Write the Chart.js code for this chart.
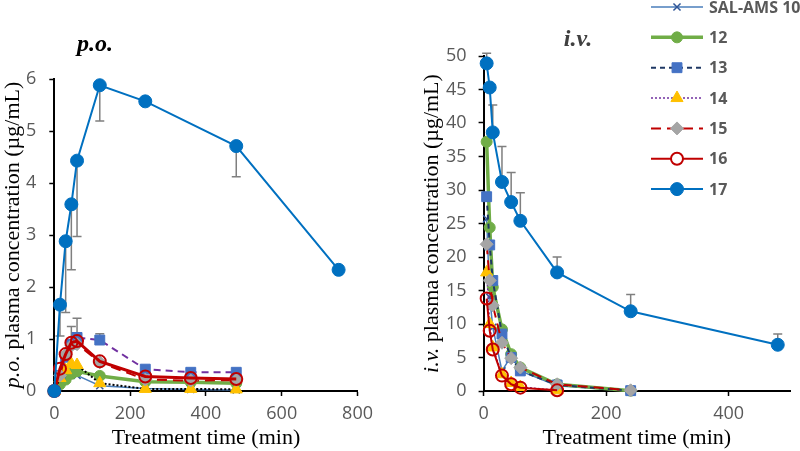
<!DOCTYPE html>
<html><head><meta charset="utf-8">
<script src="https://cdn.jsdelivr.net/npm/chart.js@4.4.1/dist/chart.umd.min.js"></script>
<style>
html,body{margin:0;padding:0;background:#fff;width:800px;height:451px;overflow:hidden}
.w{position:absolute;top:0;height:451px}
</style></head><body>
<div class="w" style="left:0;width:380px"><canvas id="po"></canvas></div>
<div class="w" style="left:380px;width:420px"><canvas id="iv"></canvas></div>
<script>
// ---------- DATA ----------
const seriesNames = ['SAL-AMS 10','12','13','14','15','16','17'];

const poTimes = [0, 15, 30, 45, 60, 120, 240, 360, 480, 750];
const po10 = [0, 0.15, 0.28, 0.36, 0.30, 0.10, 0.05, 0.03, 0.02, null];
const po12 = [0, 0.13, 0.22, 0.33, 0.38, 0.29, 0.18, 0.17, 0.15, null];
const po13 = [0, 0.30, 0.65, 0.90, 1.03, 0.98, 0.42, 0.36, 0.36, null];
const po14 = [0, 0.25, 0.40, 0.52, 0.50, 0.15, 0.04, 0.04, 0.03, null];
const po15 = [0, 0.30, 0.70, 0.87, 0.90, 0.55, 0.22, 0.20, 0.21, null];
const po16 = [0, 0.43, 0.71, 0.93, 0.96, 0.57, 0.28, 0.25, 0.23, null];
const po17 = [0, 1.66, 2.88, 3.59, 4.43, 5.88, 5.57, null, 4.71, 2.33];
// error bars (p.o.): 17 drawn downward, 13/16 upward
const poErr17 = [null, 0.60, 1.37, 1.26, 1.46, 0.69, null, null, 0.59, null];
const poErr13 = [null, null, null, null, 0.37, 0.12, null, null, null, null];
const poErr16 = [null, null, null, 0.31, null, null, null, null, null, null];

const ivTimes = [5, 10, 15, 30, 45, 60, 120, 240, 480];
const iv10 = [25.7, 14.0, 9.5, 3.0, 5.2, 3.0, 0.8, 0.0, null];
const iv12 = [37.2, 24.4, 15.5, 9.2, 5.5, 3.5, 1.0, 0.05, null];
const iv13 = [29.0, 21.8, 16.5, 8.5, 5.0, 3.0, 0.9, 0.05, null];
const iv14 = [17.7, 10.0, 6.5, 2.5, 1.2, 0.6, 0.1, null, null];
const iv15 = [21.9, 16.5, 12.8, 7.2, 4.9, 3.5, 1.0, 0.1, null];
const iv16 = [13.8, 9.0, 6.2, 2.3, 1.0, 0.5, 0.1, null, null];
const iv17 = [48.9, 45.3, 38.6, 31.2, 28.2, 25.4, 17.7, 11.9, 6.9];
const ivErr17 = [1.5, null, 4.1, 5.3, 4.4, 4.2, 2.3, 2.5, 1.6];

const poXTicks = [0, 200, 400, 600, 800];
const ivXTicks = [0, 200, 400];

// ---------- STYLES ----------
Chart.defaults.font.family = "'Open Sans', sans-serif";
function styleFor(i, panel){
  switch(i){
    case 0: return {borderColor:'#4A7EBB', borderWidth:1.5, pointStyle:'crossRot', pointRadius:5, pointBackgroundColor:'#2F5597', pointBorderColor:'#2F5597', pointBorderWidth:1.5};
    case 1: return {borderColor:'#70AD47', borderWidth:3.5, pointStyle:'circle', pointRadius:5.5, pointBackgroundColor:'#70AD47', pointBorderColor:'#70AD47', pointBorderWidth:1};
    case 2: return {borderColor: panel==='po'?'#7030A0':'#1F3864', borderDash: panel==='po'?[7,5]:[5,4], borderWidth:2, pointStyle:'rect', pointRadius:7, pointBackgroundColor:'#4472C4', pointBorderColor:'#4472C4', pointBorderWidth:1};
    case 3: return {borderColor: panel==='po'?'#000000':'#7030A0', borderDash:[2,2], borderWidth: panel==='po'?2:1.5, pointStyle:'triangle', pointRadius:7, pointBackgroundColor:'#FFC000', pointBorderColor:'#FFC000', pointBorderWidth:1};
    case 4: return {borderColor:'#C00000', borderDash:[10,6], borderWidth:2, pointStyle:'rectRot', pointRadius:6.5, pointBackgroundColor:'#A5A5A5', pointBorderColor:'#A5A5A5', pointBorderWidth:1};
    case 5: return {borderColor:'#C00000', borderWidth: panel==='po'?3:2, pointStyle:'circle', pointRadius:6, pointBackgroundColor:'rgba(255,255,255,0)', pointBorderColor:'#C00000', pointBorderWidth:2};
    default: return {borderColor:'#0070C0', borderWidth:2, pointStyle:'circle', pointRadius:6.5, pointBackgroundColor:'#0070C0', pointBorderColor:'#0070C0', pointBorderWidth:1};
  }
}
function makeDatasets(times, list, panel){
  return list.map((vals, i) => Object.assign({
    label: seriesNames[i],
    data: times.map((t, k) => ({x: t, y: vals[k]})).filter(p => p.y !== null),
    tension: 0, clip: false, order: list.length - 1 - i, fill: false
  }, styleFor(i, panel)));
}

// ---------- PLUGINS ----------
function errorPlugin(bars){
  return { id:'errBars', beforeDatasetsDraw(chart){
    const ctx = chart.ctx, xs = chart.scales.x, ys = chart.scales.y;
    ctx.save(); ctx.strokeStyle = '#7F7F7F'; ctx.lineWidth = 1.5; ctx.setLineDash([]);
    bars.forEach(b => b.err.forEach((e, k) => {
      if (e == null || b.values[k] == null) return;
      const px = xs.getPixelForValue(b.times[k]);
      const py = ys.getPixelForValue(b.values[k]);
      const pe = ys.getPixelForValue(b.values[k] + b.dir * e);
      ctx.beginPath(); ctx.moveTo(px, py); ctx.lineTo(px, pe);
      ctx.moveTo(px - 4.5, pe); ctx.lineTo(px + 4.5, pe); ctx.stroke();
    }));
    ctx.restore();
  }};
}
function textPlugin(o){
  return { id:'texts', afterDraw(chart){
    const ctx = chart.ctx, ca = chart.chartArea;
    ctx.save();
    ctx.fillStyle = o.titleColor; ctx.font = "italic bold 24px 'Liberation Serif'";
    ctx.textAlign = 'center'; ctx.textBaseline = 'middle';
    ctx.fillText(o.title, o.titleX, o.titleY);
    // y axis title with italic prefix
    const fi = "italic 22px 'Liberation Serif'", fr = "22px 'Liberation Serif'";
    ctx.font = fi; const w1 = ctx.measureText(o.yItalic).width;
    ctx.font = fr; const w2 = ctx.measureText(o.yRest).width;
    ctx.translate(o.yX, (ca.top + ca.bottom) / 2); ctx.rotate(-Math.PI / 2);
    ctx.fillStyle = '#000'; ctx.textAlign = 'left';
    ctx.font = fi; ctx.fillText(o.yItalic, -(w1 + w2) / 2, 0);
    ctx.font = fr; ctx.fillText(o.yRest, -(w1 + w2) / 2 + w1, 0);
    ctx.restore();
  }};
}
const legendPlugin = { id:'legendBox', afterDraw(chart){
  const ctx = chart.ctx;
  chart.data.datasets.forEach((ds, i) => {
    const y = 7 + i * 30.35;
    ctx.save();
    ctx.strokeStyle = ds.borderColor; ctx.lineWidth = ds.borderWidth;
    ctx.setLineDash(ds.borderDash || []);
    ctx.beginPath(); ctx.moveTo(271, y); ctx.lineTo(323, y); ctx.stroke();
    ctx.setLineDash([]);
    ctx.fillStyle = ds.pointBackgroundColor === 'rgba(255,255,255,0)' ? '#ffffff' : ds.pointBackgroundColor;
    ctx.strokeStyle = ds.pointBorderColor; ctx.lineWidth = ds.pointBorderWidth;
    Chart.helpers.drawPoint(ctx, {pointStyle: ds.pointStyle, radius: ds.pointRadius, borderWidth: ds.pointBorderWidth, rotation: 0}, 297, y);
    ctx.fillStyle = '#595959'; ctx.font = "bold 16px 'Open Sans'";
    ctx.textAlign = 'left'; ctx.textBaseline = 'middle';
    ctx.fillText(ds.label, 329, y + 1);
    ctx.restore();
  });
}};

function axes(xmax, xstep, xticks, ymax, ystep, ypad){
  const tickFont = {family:"'Open Sans'", size:18};
  return {
    x: { type:'linear', min:0, max:xmax,
      afterBuildTicks: s => { s.ticks = xticks.map(v => ({value: v})); },
      ticks:{ stepSize:xstep, includeBounds:false, color:'#595959', font:tickFont, padding:7, maxRotation:0 },
      grid:{ display:true, drawOnChartArea:false, drawTicks:true, tickLength:5, color:'#000', tickWidth:1.5 },
      border:{ display:true, color:'#000', width:2 },
      title:{ display:true, text:'Treatment time (min)', color:'#000', font:{family:"'Liberation Serif'", size:22}, padding:{top:-7, bottom:0} } },
    y: { type:'linear', min:0, max:ymax,
      ticks:{ stepSize:ystep, color:'#595959', font:tickFont, padding:ypad },
      grid:{ display:true, drawOnChartArea:false, drawTicks:true, tickLength:5, color:'#000', tickWidth:1.5 },
      border:{ display:true, color:'#000', width:2 } }
  };
}

new Chart(document.getElementById('po'), {
  type:'line',
  data:{ datasets: makeDatasets(poTimes, [po10, po12, po13, po14, po15, po16, po17], 'po') },
  options:{ responsive:true, maintainAspectRatio:false, animation:false,
    layout:{ padding:{ left:13, right:22, top:79, bottom:0 } },
    plugins:{ legend:{display:false}, tooltip:{enabled:false} },
    scales: axes(800, 200, poXTicks, 6, 1, 13) },
  plugins:[ errorPlugin([
      {times:poTimes, values:po17, err:poErr17, dir:-1},
      {times:poTimes, values:po13, err:poErr13, dir:1},
      {times:poTimes, values:po16, err:poErr16, dir:1}]),
    textPlugin({title:'p.o.', titleColor:'#000', titleX:95, titleY:45, yItalic:'p.o.', yRest:' plasma concentration (µg/mL)', yX:13}) ]
});

new Chart(document.getElementById('iv'), {
  type:'line',
  data:{ datasets: makeDatasets(ivTimes, [iv10, iv12, iv13, iv14, iv15, iv16, iv17], 'iv') },
  options:{ responsive:true, maintainAspectRatio:false, animation:false,
    layout:{ padding:{ left:54, right:10, top:56, bottom:0 } },
    plugins:{ legend:{display:false}, tooltip:{enabled:false} },
    scales: axes(500, 200, ivXTicks, 50, 5, 12) },
  plugins:[ errorPlugin([{times:ivTimes, values:iv17, err:ivErr17, dir:1}]),
    textPlugin({title:'i.v.', titleColor:'#404040', titleX:198, titleY:40, yItalic:'i.v.', yRest:' plasma concentration (µg/mL)', yX:52}),
    legendPlugin ]
});
</script>
</body></html>
